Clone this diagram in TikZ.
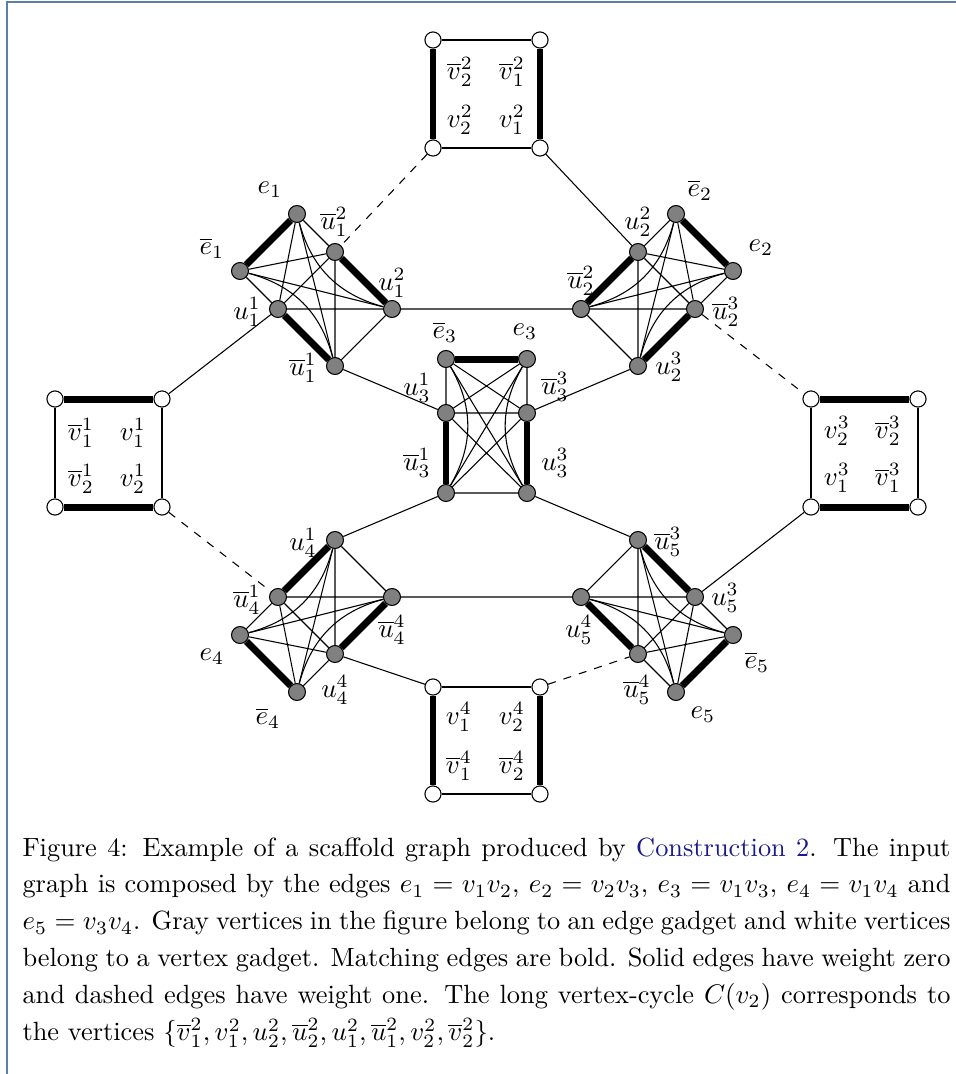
\documentclass[tikz,border=0pt]{standalone}
\usepackage{amsmath}
\definecolor{framecol}{RGB}{91,127,168}
\definecolor{linkcol}{RGB}{26,26,140}
\pgfdeclarelayer{background}
\pgfsetlayers{background,main}

\begin{document}
\begin{tikzpicture}[x=0.3718pt,y=-0.3718pt,
  gnode/.style={circle,draw,fill=gray,inner sep=0pt,minimum size=6.3pt},
  wnode/.style={circle,draw,fill=white,inner sep=0pt,minimum size=6pt},
  match/.style={line width=2.6pt},
  lbl/.style={inner sep=0pt}]

\useasboundingbox (0,0) rectangle (956,1074);
\draw[framecol,line width=0.75pt] (7,1074) -- (7,2) -- (956,2);

% vertex gadgets
\node[wnode] (t1) at (433,40) {};
\node[wnode] (t2) at (540,40) {};
\node[wnode] (t3) at (433,148) {};
\node[wnode] (t4) at (540,148) {};

\node[wnode] (l1) at (55,399) {};
\node[wnode] (l2) at (162,399) {};
\node[wnode] (l3) at (55,507) {};
\node[wnode] (l4) at (162,507) {};

\node[wnode] (r1) at (811,399) {};
\node[wnode] (r2) at (918,399) {};
\node[wnode] (r3) at (811,507) {};
\node[wnode] (r4) at (918,507) {};

\node[wnode] (b1) at (433,687) {};
\node[wnode] (b2) at (540,687) {};
\node[wnode] (b3) at (433,794) {};
\node[wnode] (b4) at (540,794) {};

% edge gadgets
\node[gnode] (e1) at (297,214) {};
\node[gnode] (eb1) at (240,271) {};
\node[gnode] (ub12) at (335,252) {};
\node[gnode] (u12) at (392,309) {};
\node[gnode] (u11) at (278,309) {};
\node[gnode] (ub11) at (335,366) {};

\node[gnode] (eb2) at (676,214) {};
\node[gnode] (e2) at (733,271) {};
\node[gnode] (u22) at (638,252) {};
\node[gnode] (ub22) at (581,309) {};
\node[gnode] (ub23) at (695,309) {};
\node[gnode] (u23) at (638,366) {};

\node[gnode] (eb3) at (446,359) {};
\node[gnode] (e3) at (527,359) {};
\node[gnode] (u31) at (446,413) {};
\node[gnode] (ub33) at (527,413) {};
\node[gnode] (ub31) at (446,493) {};
\node[gnode] (u33) at (527,493) {};

\node[gnode] (eb4) at (297,692) {};
\node[gnode] (e4) at (240,635) {};
\node[gnode] (u44) at (335,654) {};
\node[gnode] (ub44) at (392,597) {};
\node[gnode] (ub41) at (278,597) {};
\node[gnode] (u41) at (335,540) {};

\node[gnode] (e5) at (676,692) {};
\node[gnode] (eb5) at (733,635) {};
\node[gnode] (ub54) at (638,654) {};
\node[gnode] (u54) at (581,597) {};
\node[gnode] (u53) at (695,597) {};
\node[gnode] (ub53) at (638,540) {};

\begin{pgfonlayer}{background}
\draw (t1) -- (t2) (t3) -- (t4);
\draw[match] (t1) -- (t3) (t2) -- (t4);
\draw (l1) -- (l3) (l2) -- (l4);
\draw[match] (l1) -- (l2) (l3) -- (l4);
\draw (r1) -- (r3) (r2) -- (r4);
\draw[match] (r1) -- (r2) (r3) -- (r4);
\draw (b1) -- (b2) (b3) -- (b4);
\draw[match] (b1) -- (b3) (b2) -- (b4);

\draw (e1) -- (ub12) (e1) -- (u11) (e1) -- (ub11) (eb1) -- (ub12) (eb1) -- (u12) (eb1) -- (u11) (ub12) -- (u11) (ub12) -- (ub11) (u12) -- (u11) (u12) -- (ub11);
\draw (e1) to[bend right=30] (u12) (eb1) to[bend left=30] (ub11);
\draw[match] (e1) -- (eb1) (ub12) -- (u12) (u11) -- (ub11);

\draw (eb2) -- (u22) (eb2) -- (ub23) (eb2) -- (u23) (e2) -- (u22) (e2) -- (ub22) (e2) -- (ub23) (u22) -- (ub23) (u22) -- (u23) (ub22) -- (ub23) (ub22) -- (u23);
\draw (eb2) to[bend left=30] (ub22) (e2) to[bend right=30] (u23);
\draw[match] (eb2) -- (e2) (u22) -- (ub22) (ub23) -- (u23);

\draw (eb3) -- (u31) (eb3) -- (ub33) (eb3) -- (u33) (e3) -- (u31) (e3) -- (ub31) (e3) -- (ub33) (u31) -- (ub33) (u31) -- (u33) (ub31) -- (ub33) (ub31) -- (u33);
\draw (eb3) to[bend left=30] (ub31) (e3) to[bend right=30] (u33);
\draw[match] (eb3) -- (e3) (u31) -- (ub31) (ub33) -- (u33);

\draw (eb4) -- (u44) (eb4) -- (ub41) (eb4) -- (u41) (e4) -- (u44) (e4) -- (ub44) (e4) -- (ub41) (u44) -- (ub41) (u44) -- (u41) (ub44) -- (ub41) (ub44) -- (u41);
\draw (eb4) to[bend left=30] (ub44) (e4) to[bend right=30] (u41);
\draw[match] (eb4) -- (e4) (u44) -- (ub44) (ub41) -- (u41);

\draw (e5) -- (ub54) (e5) -- (u53) (e5) -- (ub53) (eb5) -- (ub54) (eb5) -- (u54) (eb5) -- (u53) (ub54) -- (u53) (ub54) -- (ub53) (u54) -- (u53) (u54) -- (ub53);
\draw (e5) to[bend right=30] (u54) (eb5) to[bend left=30] (ub53);
\draw[match] (e5) -- (eb5) (ub54) -- (u54) (u53) -- (ub53);

% edges between gadgets
\draw (t4) -- (u22) (u11) -- (l2) (u12) -- (ub22) (ub11) -- (u31) (ub33) -- (u23);
\draw (ub31) -- (u41) (u33) -- (ub53) (ub44) -- (u54) (u53) -- (r3) (u44) -- (b1);
\draw[dashed] (t3) -- (ub12) (ub23) -- (r1) (l4) -- (ub41) (b2) -- (ub54);
\end{pgfonlayer}

% labels
\node[lbl] (lvt1) at (460,72) {$\overline{v}_2^2$};
\node[lbl] (lvt2) at (512,72) {$\overline{v}_1^2$};
\node[lbl] (lvt3) at (460,120) {$v_2^2$};
\node[lbl] (lvt4) at (512,120) {$v_1^2$};

\node[lbl] (lvl1) at (81,433) {$\overline{v}_1^1$};
\node[lbl] (lvl2) at (133,433) {$v_1^1$};
\node[lbl] (lvl3) at (81,479) {$\overline{v}_2^1$};
\node[lbl] (lvl4) at (133,479) {$v_2^1$};

\node[lbl] (lvr1) at (837,431) {$v_2^3$};
\node[lbl] (lvr2) at (888,431) {$\overline{v}_2^3$};
\node[lbl] (lvr3) at (837,478) {$v_1^3$};
\node[lbl] (lvr4) at (888,478) {$\overline{v}_1^3$};

\node[lbl] (lvb1) at (459,717) {$v_1^4$};
\node[lbl] (lvb2) at (512,717) {$v_2^4$};
\node[lbl] (lvb3) at (459,766) {$\overline{v}_1^4$};
\node[lbl] (lvb4) at (512,766) {$\overline{v}_2^4$};

\node[lbl] (le1) at (270,190) {$e_1$};
\node[lbl] (leb1) at (212,248) {$\overline{e}_1$};
\node[lbl] (lub12) at (334,222) {$\overline{u}_1^2$};
\node[lbl] (lu12) at (392,283) {$u_1^2$};
\node[lbl] (lu11) at (247,312) {$u_1^1$};
\node[lbl] (lub11) at (303,368) {$\overline{u}_1^1$};

\node[lbl] (leb2) at (700,190) {$\overline{e}_2$};
\node[lbl] (le2) at (761,248) {$e_2$};
\node[lbl] (lu22) at (638,222) {$u_2^2$};
\node[lbl] (lub22) at (581,281) {$\overline{u}_2^2$};
\node[lbl] (lub23) at (726,312) {$\overline{u}_2^3$};
\node[lbl] (lu23) at (669,367) {$u_2^3$};

\node[lbl] (leb3) at (445,332) {$\overline{e}_3$};
\node[lbl] (le3) at (525,332) {$e_3$};
\node[lbl] (lu31) at (417,388) {$u_3^1$};
\node[lbl] (lub33) at (555,387) {$\overline{u}_3^3$};
\node[lbl] (lub31) at (417,463) {$\overline{u}_3^1$};
\node[lbl] (lu33) at (555,463) {$u_3^3$};

\node[lbl] (lu41) at (303,543) {$u_4^1$};
\node[lbl] (lub41) at (247,600) {$\overline{u}_4^1$};
\node[lbl] (lub44) at (392,630) {$\overline{u}_4^4$};
\node[lbl] (le4) at (212,657) {$e_4$};
\node[lbl] (lu44) at (335,690) {$u_4^4$};
\node[lbl] (leb4) at (268,718) {$\overline{e}_4$};

\node[lbl] (lub53) at (668,542) {$\overline{u}_5^3$};
\node[lbl] (lu53) at (725,598) {$u_5^3$};
\node[lbl] (lu54) at (579,630) {$u_5^4$};
\node[lbl] (leb5) at (757,662) {$\overline{e}_5$};
\node[lbl] (lub54) at (637,690) {$\overline{u}_5^4$};
\node[lbl] (le5) at (703,715) {$e_5$};

% caption
\node[anchor=base west,inner sep=0pt] (cap) at (22,856) {\parbox[t]{345pt}{\fontsize{9.8}{13.75}\selectfont
\makebox[345pt][s]{Figure 4: Example of a scaffold graph produced by {\color{linkcol}Construction 2}. The input}\\
\makebox[345pt][s]{graph is composed by the edges $e_1=v_1v_2$, $e_2=v_2v_3$, $e_3=v_1v_3$, $e_4=v_1v_4$ and}\\
\makebox[345pt][s]{$e_5=v_3v_4$. Gray vertices in the figure belong to an edge gadget and white vertices}\\
\makebox[345pt][s]{belong to a vertex gadget. Matching edges are bold. Solid edges have weight zero}\\
\makebox[345pt][s]{and dashed edges have weight one. The long vertex-cycle $C(v_2)$ corresponds to}\\
\makebox[345pt][l]{the vertices $\{\overline{v}_1^2,v_1^2,u_2^2,\overline{u}_2^2,u_1^2,\overline{u}_1^2,v_2^2,\overline{v}_2^2\}$.}}};

\end{tikzpicture}
\end{document}
